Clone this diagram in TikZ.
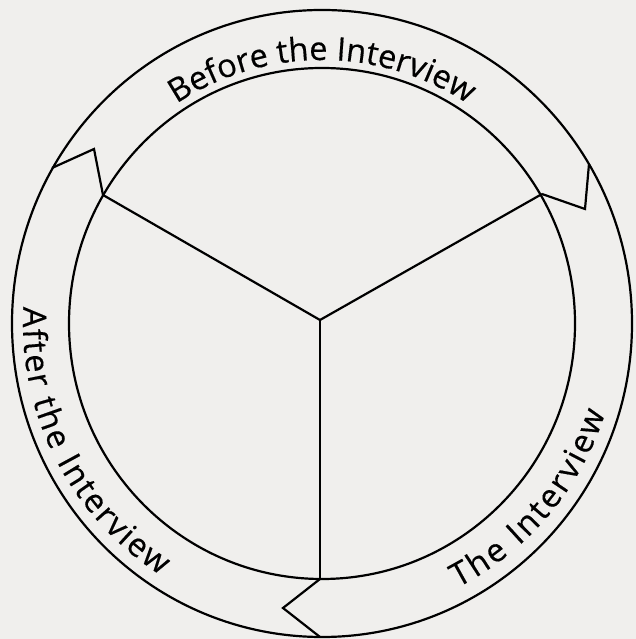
\documentclass[tikz,border=0pt]{standalone}
\usepackage{fontspec}
\newfontfamily\lblfont[FakeBold=0.4]{Open Sans}
\newcommand\lblstyle{\lblfont\fontsize{32.5}{38}\selectfont}
\usetikzlibrary{decorations.text}
\definecolor{bg}{HTML}{F0EFED}
\begin{document}
\begin{tikzpicture}[x=1pt,y=1pt,
  ln/.style={line width=2.2pt, line join=miter, black},
  arctext/.style={decorate, decoration={text along path, text align=center, text={|\lblstyle|#1}}},
  fittext/.style={decorate, decoration={text along path, text align=fit to path, text={|\lblstyle|#1}}}]
\fill[bg] (0,0) rectangle (636,639);
\useasboundingbox (0,0) rectangle (636,639);
\coordinate (C) at (322,315.5);
\coordinate (O) at (320,319);
\coordinate (Lin) at (103,444);
\coordinate (Lv) at (94,490);
\coordinate (Lout) at (52,471);
\coordinate (Rin) at (542,445);
\coordinate (Rv) at (585,430);
\coordinate (Rout) at (589,475);
\coordinate (Bin) at (320,60);
\coordinate (Bv) at (283,31);
\coordinate (Bout) at (320,2);
\draw[ln] (C) ellipse [x radius=310, y radius=313.5];
\draw[ln] (C) ellipse [x radius=253, y radius=255.5];
\draw[ln] (O) -- (Lin);
\draw[ln] (O) -- (Rin);
\draw[ln] (O) -- (Bin);
\draw[ln] (Lin) -- (Lv) -- (Lout);
\draw[ln] (Rin) -- (Rv) -- (Rout);
\draw[ln] (Bin) -- (Bv) -- (Bout);
\path[arctext={Before the Interview}] (C) ++(130:263.5) arc[start angle=130, end angle=50, radius=263.5];
\path[fittext={After the Interview}] (C) ++(176.8:299) arc[start angle=176.8, end angle=237.3, radius=299];
\path[fittext={The Interview}] (C) ++(-62.8:297) arc[start angle=-62.8, end angle=-17.6, radius=297];
\end{tikzpicture}
\end{document}
